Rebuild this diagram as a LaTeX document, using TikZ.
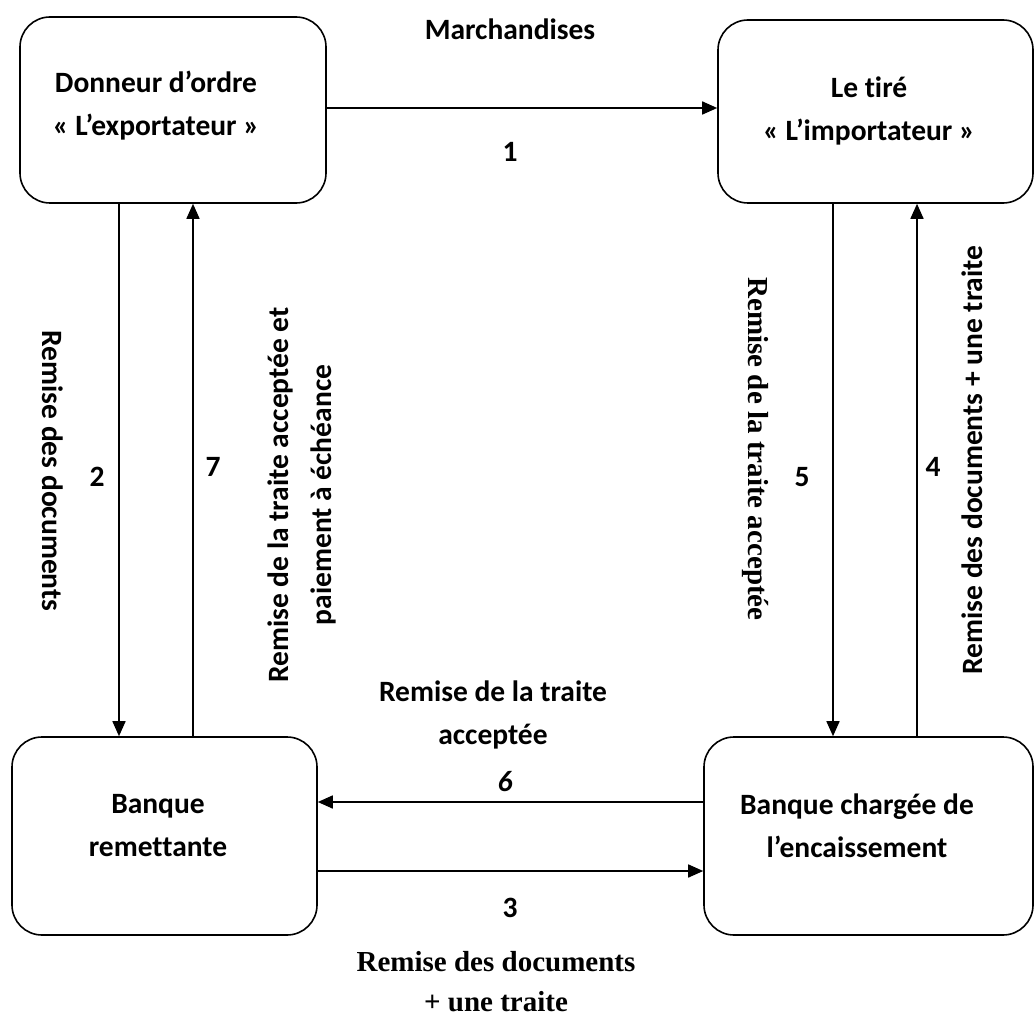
\documentclass[tikz,border=0pt]{standalone}
\usepackage{fontspec}
\setmainfont{Carlito}[Ligatures=NoCommon]
\newfontfamily\timesfont{Liberation Serif}[Ligatures=NoCommon]
\usetikzlibrary{arrows.meta}
\tikzset{
  actor/.style={draw, line width=1.6pt, rounded corners=30pt, rectangle, inner sep=0pt},
  flow/.style={draw, line width=1.6pt, -{Triangle[length=15pt,width=13pt]}},
  lbl/.style={font=\fontsize{29.5}{43}\selectfont\bfseries, align=center, inner sep=0pt},
  tlbl/.style={font=\timesfont\fontsize{29}{40}\selectfont\bfseries, align=center, inner sep=0pt}
}
\begin{document}
\begin{tikzpicture}[x=1pt,y=-1pt]
\useasboundingbox (0,0) rectangle (1035,1016);

% the four parties
\node[actor, minimum width=306pt, minimum height=186pt] (TL) at (173,110) {};
\node[actor, minimum width=315pt, minimum height=183pt] (TR) at (875.5,111.5) {};
\node[actor, minimum width=305pt, minimum height=198pt] (BL) at (164.5,836) {};
\node[actor, minimum width=329pt, minimum height=198pt] (BR) at (868.5,836) {};

\node[lbl] (tlA) at (156,106) {Donneur d’ordre\\« L’exportateur »};
\node[lbl] (trA) at (869,111) {Le tiré\\« L’importateur »};
\node[lbl] (blA) at (158,826) {Banque\\remettante};
\node[lbl] (brA) at (857,826) {Banque chargée de\\l’encaissement};

% x positions of the vertical flows
\coordinate (x2) at (119,0);
\coordinate (x7) at (193,0);
\coordinate (x5) at (833,0);
\coordinate (x4) at (917,0);

% 1: goods
\draw[flow] ([yshift=2pt]TL.east) -- ([yshift=2pt]TL.east -| TR.west);
\node[lbl] (m) at (510,29) {Marchandises};
\node[lbl] (n1) at (510,152) {1};

% 2 and 7: exporter <-> remitting bank
\draw[flow] (TL.south -| x2) -- (BL.north -| x2);
\draw[flow] (BL.north -| x7) -- (TL.south -| x7);
\node[lbl, rotate=-90] (l2) at (53,471) {Remise des documents};
\node[lbl] (n2) at (97,477) {2};
\node[lbl] (n7) at (213,467) {7};
\node[lbl, rotate=90] (l7) at (302,495) {Remise de la traite acceptée et\\paiement à échéance};

% 3 and 6: between the banks
\draw[flow] ([yshift=-35pt]BL.east) -- ([yshift=-35pt]BL.east -| BR.west);
\draw[flow] ([yshift=34pt]BR.west) -- ([yshift=34pt]BR.west -| BL.east);
\node[lbl] (l6) at (493,715) {Remise de la traite\\acceptée};
\node[lbl, font=\fontsize{29.5}{43}\selectfont\bfseries\itshape] (n6) at (505,782) {6};
\node[lbl] (n3) at (510,908) {3};
\node[tlbl] (l3) at (496,982) {Remise des documents\\+ une traite};

% 4 and 5: collecting bank <-> drawee
\draw[flow] (TR.south -| x5) -- (BR.north -| x5);
\draw[flow] (BR.north -| x4) -- (TR.south -| x4);
\node[tlbl, rotate=-90] (l5) at (755,449) {Remise de la traite acceptée};
\node[lbl] (n5) at (802,477) {5};
\node[lbl] (n4) at (933,467) {4};
\node[lbl, rotate=90] (l4) at (972,460) {Remise des documents + une traite};
\end{tikzpicture}
\end{document}
